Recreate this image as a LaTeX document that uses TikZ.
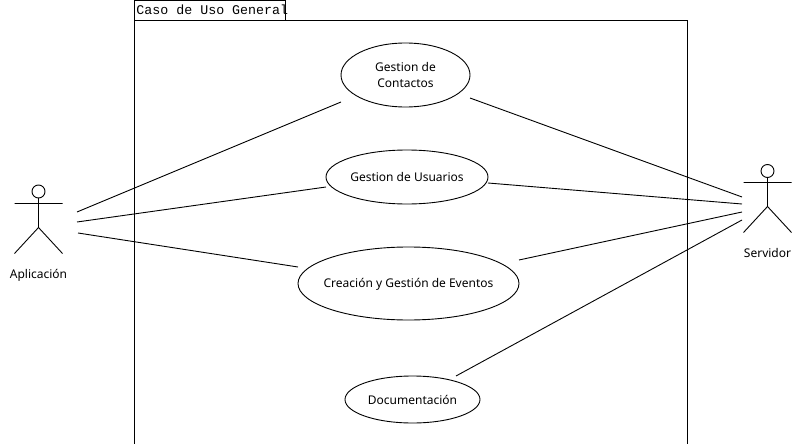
\documentclass[tikz,border=0pt]{standalone}
\usepackage{fontspec}
\setmainfont{Noto Sans}
\setmonofont{Liberation Mono}
\usetikzlibrary{shapes.geometric}

\tikzset{
  usecase/.style={ellipse,draw,inner sep=0pt,outer sep=0pt},
  casename/.style={inner sep=0pt,align=center,font=\fontsize{12}{16}\selectfont},
  actorhead/.style={circle,draw,inner sep=0pt,outer sep=0pt,minimum size=13pt},
  actorname/.style={inner sep=0pt,font=\fontsize{12}{16}\selectfont}
}

\begin{document}
\begin{tikzpicture}[x=1pt,y=-1pt,line width=0.9pt]
    \useasboundingbox (0,0) rectangle (793,444);

    % frame
    \node[draw,inner sep=0pt,outer sep=0pt,minimum width=151pt,minimum height=20pt] (tab) at (209.5,10.5) {};
    \node[anchor=west,inner sep=0pt,font=\fontsize{13.3}{16}\ttfamily] (title) at (136,10) {Caso de Uso General};
    \coordinate (frameleft) at (134.5,444);
    \coordinate (frameright) at (687.5,444);
    \draw (frameleft) |- (frameright |- tab.south) -- (frameright);

    % use cases
    \node[usecase,minimum width=129pt,minimum height=64pt] (contactos) at (405.5,75) {};
    \node[usecase,minimum width=162pt,minimum height=54pt] (usuarios) at (407,177) {};
    \node[usecase,minimum width=221pt,minimum height=73pt] (eventos) at (408.5,283.5) {};
    \node[usecase,minimum width=135pt,minimum height=47pt] (documentacion) at (412.5,399.5) {};

    \node[casename] (contactosname) at (contactos) {Gestion de\\ Contactos};
    \node[casename] (usuariosname) at (usuarios) {Gestion de Usuarios};
    \node[casename,yshift=-1pt] (eventosname) at (eventos) {Creación y Gestión de Eventos};
    \node[casename] (documentacionname) at (documentacion) {Documentación};

    % actors
    \node[actorhead] (headA) at (38.5,191.5) {};
    \node[actorname] (aplicacion) at (38.5,275) {Aplicación};
    \draw (headA.south) -- (38.5,227.5) -- (14.5,253.5) (38.5,227.5) -- (62.5,253.5) (14.5,203.5) -- (62.5,203.5);

    \node[actorhead] (headS) at (767.5,171) {};
    \node[actorname] (servidor) at (767.5,253) {Servidor};
    \draw (headS.south) -- (767.5,206.5) -- (743.5,232.5) (767.5,206.5) -- (791.5,232.5) (743.5,182.5) -- (791.5,182.5);

    \coordinate (a1) at (77,212);
    \coordinate (a2) at (77,222);
    \coordinate (a3) at (78,233);
    \coordinate (s1) at (742,197);
    \coordinate (s2) at (742,204);
    \coordinate (s3) at (742,212);
    \coordinate (s4) at (742,220);

    \path
        (a1) edge ([yshift=-27pt]contactos.west)
        (a2) edge ([yshift=-10pt]usuarios.west)
        (a3) edge ([yshift=16.5pt]eventos.west)
        ([yshift=-23pt]contactos.east) edge (s1)
        ([yshift=-6pt]usuarios.east) edge (s2)
        ([yshift=23.5pt]eventos.east) edge (s3)
        ([xshift=43.5pt]documentacion.north) edge (s4)
        ;
\end{tikzpicture}
\end{document}
